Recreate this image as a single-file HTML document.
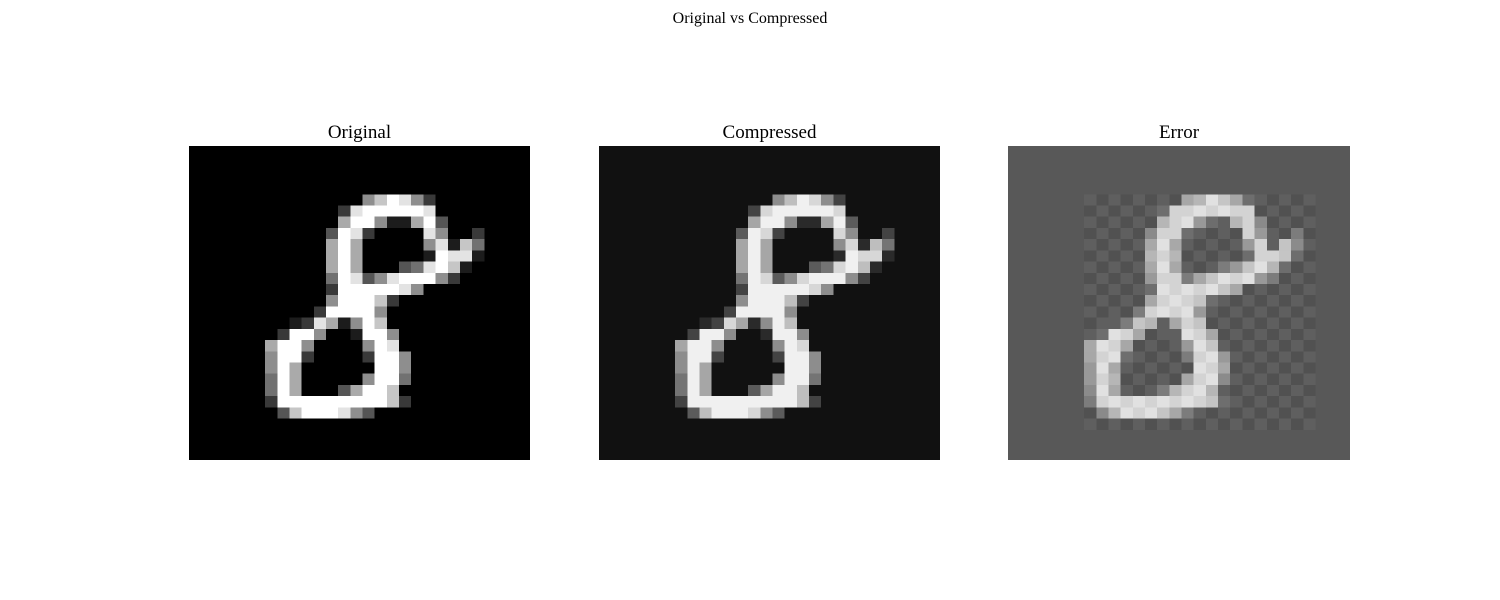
<!DOCTYPE html>
<html><head><meta charset="utf-8"><style>
html,body{margin:0;padding:0;background:#fff;}
svg{display:block;font-family:"Liberation Serif",serif;}
</style></head><body>
<svg id="fig" width="1500" height="600" viewBox="0 0 1500 600">
<text x="750" y="23" text-anchor="middle" font-size="16">Original vs Compressed</text>
<text x="359.5" y="138" text-anchor="middle" font-size="19">Original</text>
<text x="769.5" y="138" text-anchor="middle" font-size="19">Compressed</text>
<text x="1179" y="138" text-anchor="middle" font-size="19">Error</text>
<rect x="189" y="146" width="341" height="314" fill="#000"/>
<rect x="599" y="146" width="341" height="314" fill="rgb(17,17,17)"/>
<rect x="1008" y="146" width="342" height="314" fill="rgb(88,88,88)"/>
<g id="p0" shape-rendering="crispEdges"></g>
<g id="p1" shape-rendering="crispEdges"></g>
<g id="p2" shape-rendering="crispEdges"></g>
</svg>
<script>
const pixelRows = [
"0000000000000000000000000000",
"0000000000000000000000000000",
"0000000000000000000000000000",
"0000000000000000000000000000",
"0000000000000057985200000000",
"0000000000002899999800000000",
"0000000000006995116930000000",
"0000000000039820000850020000",
"0000000000069600000581740000",
"0000000000069600000198810000",
"0000000000069600034897100000",
"0000000000049835899952000000",
"0000000000029999985000000000",
"0000000000059997200000000000",
"0000000000299995000000000000",
"0000000012861597000000000000",
"0000000299500199500000000000",
"0000006995000059800000000000",
"0000005992000029950000000000",
"0000005960000009950000000000",
"0000004960000059940000000000",
"0000004960003699700000000000",
"0000002999999999720000000000",
"0000000379998530000000000000",
"0000000000000000000000000000",
"0000000000000000000000000000",
"0000000000000000000000000000",
"0000000000000000000000000000"
];
const panelLefts = [189, 599, 1008];
const W = 341, H = 314, top0 = 146, N = 28;
const cw = W / N, ch = H / N;
const offX = 3, offY = 3.4;
const NS = "http://www.w3.org/2000/svg";
function grayOriginal(v){ return Math.round(v / 9 * 255); }
function grayCompressed(v){ return Math.round(17 + v / 9 * 223); }
function grayError(v, r, c){
  if (r < 4 || r > 24 || c < 6 || c > 24) return 88;
  const chk = ((r + c) % 2 === 0) ? 7 : -7;
  return Math.max(0, Math.min(255, Math.round(88 + v / 9 * 130 + chk)));
}
const fns = [grayOriginal, grayCompressed, grayError];
const names = ['original-pixel', 'compressed-pixel', 'error-pixel'];
for (let p = 0; p < 3; p++) {
  const g = document.getElementById('p' + p);
  for (let r = 0; r < N; r++) {
    for (let c = 0; c < N; c++) {
      const v = +pixelRows[r][c];
      const gv = fns[p](v, r, c);
      let x = panelLefts[p] + offX + c * cw, y = top0 + offY + r * ch;
      let w = cw + 0.5, h = ch + 0.5;
      const maxX = panelLefts[p] + W, maxY = top0 + H;
      if (x + w > maxX) w = Math.max(0, maxX - x);
      if (y + h > maxY) h = Math.max(0, maxY - y);
      if (w <= 0 || h <= 0) continue;
      const rect = document.createElementNS(NS, 'rect');
      rect.setAttribute('x', x.toFixed(2));
      rect.setAttribute('y', y.toFixed(2));
      rect.setAttribute('width', w.toFixed(2));
      rect.setAttribute('height', h.toFixed(2));
      rect.setAttribute('fill', `rgb(${gv},${gv},${gv})`);
      
      
      g.appendChild(rect);
    }
  }
}
</script>
</body></html>
